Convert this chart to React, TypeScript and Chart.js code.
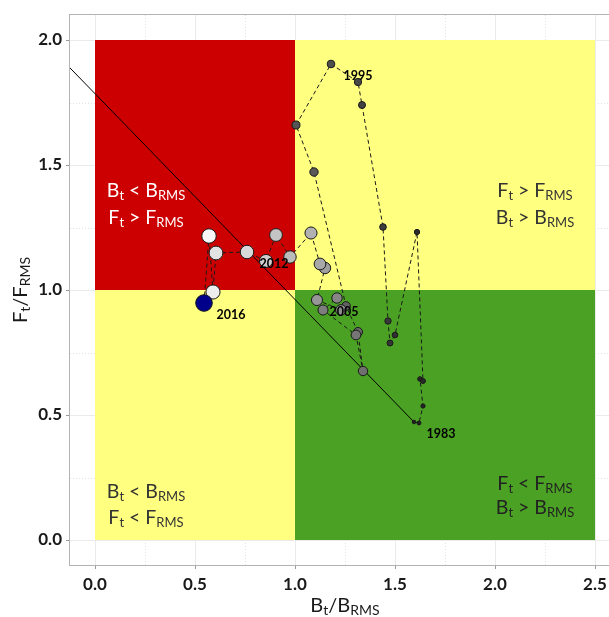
import React, { useEffect, useRef } from "react";
import { Chart, registerables } from "chart.js";

Chart.register(...registerables);

// ---- data ----
const YEARS = [
  1983, 1984, 1985, 1986, 1987, 1988, 1989, 1990, 1991, 1992, 1993, 1994,
  1995, 1996, 1997, 1998, 1999, 2000, 2001, 2002, 2003, 2004, 2005, 2006,
  2007, 2008, 2009, 2010, 2011, 2012, 2013, 2014, 2015, 2016,
];
const B_RATIO = [
  1.595, 1.62, 1.64, 1.625, 1.64, 1.61, 1.5, 1.475, 1.465, 1.44, 1.335, 1.315,
  1.18, 1.005, 1.095, 1.255, 1.315, 1.34, 1.305, 1.14, 1.21, 1.23, 1.11, 1.15,
  1.125, 1.08, 0.975, 0.905, 0.855, 0.76, 0.605, 0.59, 0.57, 0.545,
];
const F_RATIO = [
  0.472, 0.468, 0.536, 0.644, 0.636, 1.232, 0.82, 0.788, 0.876, 1.252, 1.74,
  1.832, 1.904, 1.66, 1.472, 0.936, 0.832, 0.676, 0.82, 0.92, 0.968, 0.92,
  0.96, 1.088, 1.104, 1.228, 1.132, 1.22, 1.116, 1.152, 1.148, 0.992, 1.216,
  0.948,
];
const LABEL_YEARS = [1983, 1995, 2005, 2012, 2016];
const X_TICKS = [0, 0.5, 1, 1.5, 2, 2.5];
const Y_TICKS = [0, 0.5, 1, 1.5, 2];
const X_MINOR = [0.25, 0.75, 1.25, 1.75, 2.25];
const Y_MINOR = [0.25, 0.75, 1.25, 1.75];
const LIMIT_X = [-0.2, 1.595];
const LIMIT_Y = [1.95, 0.472];
const QUAD_X = [0, 1, 2.5];
const QUAD_Y = [0, 1, 2];

type Seg = { t: string; sub?: boolean };
const QUAD_TEXT: { x: number; y: number[]; color: string; lines: Seg[][] }[] = [
  {
    x: 0.255, y: [1.372, 1.264], color: "#ffffff",
    lines: [
      [{ t: "B" }, { t: "t", sub: true }, { t: " < B" }, { t: "RMS", sub: true }],
      [{ t: "F" }, { t: "t", sub: true }, { t: " > F" }, { t: "RMS", sub: true }],
    ],
  },
  {
    x: 2.2, y: [1.372, 1.264], color: "#333333",
    lines: [
      [{ t: "F" }, { t: "t", sub: true }, { t: " > F" }, { t: "RMS", sub: true }],
      [{ t: "B" }, { t: "t", sub: true }, { t: " > B" }, { t: "RMS", sub: true }],
    ],
  },
  {
    x: 0.255, y: [0.168, 0.064], color: "#333333",
    lines: [
      [{ t: "B" }, { t: "t", sub: true }, { t: " < B" }, { t: "RMS", sub: true }],
      [{ t: "F" }, { t: "t", sub: true }, { t: " < F" }, { t: "RMS", sub: true }],
    ],
  },
  {
    x: 2.2, y: [0.2, 0.104], color: "#222222",
    lines: [
      [{ t: "F" }, { t: "t", sub: true }, { t: " < F" }, { t: "RMS", sub: true }],
      [{ t: "B" }, { t: "t", sub: true }, { t: " > B" }, { t: "RMS", sub: true }],
    ],
  },
];
const X_TITLE: Seg[] = [{ t: "B" }, { t: "t", sub: true }, { t: "/B" }, { t: "RMS", sub: true }];
const Y_TITLE: Seg[] = [{ t: "F" }, { t: "t", sub: true }, { t: "/F" }, { t: "RMS", sub: true }];

// ---- styles ----
const FONT = "Lato, 'Open Sans', sans-serif";
const RED = "#cc0000";
const YELLOW = "#ffff80";
const GREEN = "#4aa124";
const QUAD_COLORS = [
  [YELLOW, GREEN],
  [RED, YELLOW],
];

function pointRadius(i: number) {
  const r = 1.8 + 0.17 * i;
  return i === YEARS.length - 1 ? r + 0.9 : r;
}
function pointColor(i: number) {
  if (i === YEARS.length - 1) return "#00008b";
  const t = i / (YEARS.length - 2);
  const v = Math.round(255 * (0.13 + 0.84 * Math.pow(t, 1.6)));
  return `rgb(${v},${v},${v})`;
}

function drawRich(
  ctx: CanvasRenderingContext2D, segs: Seg[], cx: number, baseline: number,
  size: number, subSize: number, subShift: number, color: string
) {
  const mainFont = `${size}px ${FONT}`;
  const subFont = `${subSize}px ${FONT}`;
  let total = 0;
  const widths = segs.map((s) => {
    ctx.font = s.sub ? subFont : mainFont;
    const w = ctx.measureText(s.t).width;
    total += w;
    return w;
  });
  let x = cx - total / 2;
  ctx.fillStyle = color;
  ctx.textAlign = "left";
  ctx.textBaseline = "alphabetic";
  segs.forEach((s, k) => {
    ctx.font = s.sub ? subFont : mainFont;
    ctx.fillText(s.t, x, baseline + (s.sub ? subShift : 0));
    x += widths[k];
  });
}

const kobePlugin = {
  id: "kobePlugin",
  beforeDatasetsDraw(chart: any) {
    const { ctx, chartArea: a, scales } = chart;
    const xs = scales.x;
    const ys = scales.y;
    ctx.save();
    ctx.beginPath();
    ctx.rect(a.left, a.top, a.right - a.left, a.bottom - a.top);
    ctx.clip();
    ctx.fillStyle = "#ffffff";
    ctx.fillRect(a.left, a.top, a.right - a.left, a.bottom - a.top);
    ctx.lineWidth = 1;
    ctx.strokeStyle = "#e3e3e3";
    ctx.setLineDash([1, 2]);
    X_MINOR.forEach((v) => {
      const p = Math.round(xs.getPixelForValue(v)) + 0.5;
      ctx.beginPath(); ctx.moveTo(p, a.top); ctx.lineTo(p, a.bottom); ctx.stroke();
    });
    Y_MINOR.forEach((v) => {
      const p = Math.round(ys.getPixelForValue(v)) + 0.5;
      ctx.beginPath(); ctx.moveTo(a.left, p); ctx.lineTo(a.right, p); ctx.stroke();
    });
    ctx.setLineDash([]);
    ctx.strokeStyle = "#ebebeb";
    X_TICKS.forEach((v) => {
      const p = Math.round(xs.getPixelForValue(v)) + 0.5;
      ctx.beginPath(); ctx.moveTo(p, a.top); ctx.lineTo(p, a.bottom); ctx.stroke();
    });
    Y_TICKS.forEach((v) => {
      const p = Math.round(ys.getPixelForValue(v)) + 0.5;
      ctx.beginPath(); ctx.moveTo(a.left, p); ctx.lineTo(a.right, p); ctx.stroke();
    });
    for (let j = 0; j < 2; j++) {
      for (let i = 0; i < 2; i++) {
        const x0 = xs.getPixelForValue(QUAD_X[i]);
        const x1 = xs.getPixelForValue(QUAD_X[i + 1]);
        const y0 = ys.getPixelForValue(QUAD_Y[j + 1]);
        const y1 = ys.getPixelForValue(QUAD_Y[j]);
        ctx.fillStyle = QUAD_COLORS[j][i];
        ctx.fillRect(x0, y0, x1 - x0, y1 - y0);
      }
    }
    QUAD_TEXT.forEach((q) => {
      const cx = xs.getPixelForValue(q.x);
      q.lines.forEach((ln, k) => {
        drawRich(ctx, ln, cx, ys.getPixelForValue(q.y[k]), 19.5, 13, 3, q.color);
      });
    });
    ctx.restore();
  },
  afterDatasetsDraw(chart: any) {
    const { ctx, chartArea: a, scales } = chart;
    const xs = scales.x;
    const ys = scales.y;
    ctx.save();
    ctx.font = `bold 12.5px ${FONT}`;
    ctx.fillStyle = "#000000";
    ctx.textAlign = "center";
    ctx.textBaseline = "middle";
    LABEL_YEARS.forEach((yr) => {
      const i = YEARS.indexOf(yr);
      const px = xs.getPixelForValue(B_RATIO[i]) + 27;
      const py = ys.getPixelForValue(F_RATIO[i]) + 12;
      ctx.fillText(String(yr), px, py);
    });
    ctx.strokeStyle = "#b3b3b3";
    ctx.lineWidth = 1;
    ctx.strokeRect(a.left - 0.5, a.top - 0.5, a.right - a.left + 10, a.bottom - a.top + 1);
    drawRich(ctx, X_TITLE, xs.getPixelForValue(1.25), 612, 20, 14, 3, "#1a1a1a");
    ctx.translate(27, (a.top + a.bottom) / 2);
    ctx.rotate(-Math.PI / 2);
    drawRich(ctx, Y_TITLE, 0, 0, 20, 14, 3, "#1a1a1a");
    ctx.restore();
  },
};

export default function App() {
  const ref = useRef<HTMLCanvasElement>(null);
  useEffect(() => {
    const canvas = ref.current;
    if (!canvas) return;
    const pts = YEARS.map((_, i) => ({ x: B_RATIO[i], y: F_RATIO[i] }));
    const limit = LIMIT_X.map((v, i) => ({ x: v, y: LIMIT_Y[i] }));
    const tickFont = { family: FONT, size: 17, weight: "bold" as const };
    const chart = new Chart(canvas, {
      type: "scatter",
      data: {
        datasets: [
          {
            data: pts,
            showLine: false,
            pointRadius: (c: any) => pointRadius(c.dataIndex),
            pointBackgroundColor: (c: any) => pointColor(c.dataIndex),
            pointBorderColor: "#1a1a1a",
            pointBorderWidth: 1,
            order: 0,
          } as any,
          {
            data: pts,
            showLine: true,
            borderColor: "#1a1a1a",
            borderWidth: 1,
            borderDash: [4, 3],
            pointRadius: 0,
            tension: 0,
            order: 1,
          },
          {
            data: limit,
            showLine: true,
            borderColor: "#000000",
            borderWidth: 1,
            pointRadius: 0,
            order: 2,
          },
        ],
      },
      options: {
        animation: false,
        responsive: true,
        maintainAspectRatio: false,
        events: [],
        layout: { autoPadding: false, padding: { top: 15, left: 0, right: 0, bottom: 0 } },
        plugins: { legend: { display: false }, tooltip: { enabled: false } },
        scales: {
          x: {
            type: "linear",
            min: -0.125,
            max: 2.57,
            afterBuildTicks: (s: any) => { s.ticks = X_TICKS.map((v) => ({ value: v })); },
            afterFit: (s: any) => {
              s.height = 52;
              s.paddingLeft = 0;
              s.paddingRight = 0;
            },
            ticks: {
              autoSkip: false,
              maxRotation: 0,
              padding: 5,
              color: "#1a1a1a",
              font: tickFont,
              callback: (v: any) => Number(v).toFixed(1),
            },
            grid: { drawOnChartArea: false, drawTicks: true, tickLength: 4, tickColor: "#999999" },
            border: { display: false },
          },
          y: {
            type: "linear",
            min: -0.1,
            max: 2.1,
            afterBuildTicks: (s: any) => { s.ticks = Y_TICKS.map((v) => ({ value: v })); },
            afterFit: (s: any) => {
              s.width = 70;
              s.paddingTop = 0;
              s.paddingBottom = 0;
            },
            ticks: {
              autoSkip: false,
              padding: 4,
              color: "#1a1a1a",
              font: tickFont,
              callback: (v: any) => Number(v).toFixed(1),
            },
            grid: { drawOnChartArea: false, drawTicks: true, tickLength: 4, tickColor: "#999999" },
            border: { display: false },
          },
        },
      },
      plugins: [kobePlugin],
    });
    return () => chart.destroy();
  }, []);
  return (
    <div style={{ position: "absolute", left: 0, top: 0, width: 609, height: 617 }}>
      <canvas ref={ref} />
    </div>
  );
}
